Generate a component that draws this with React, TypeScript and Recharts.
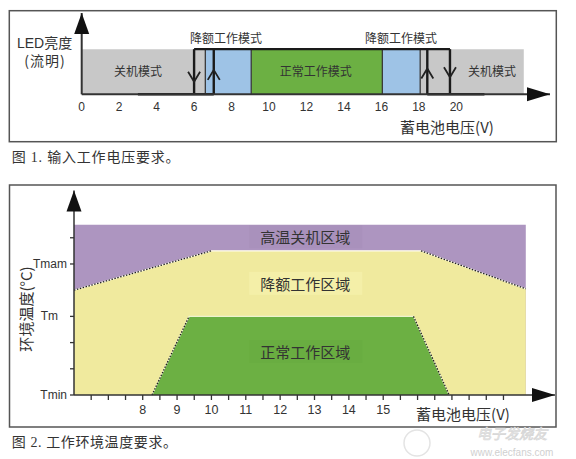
import React from 'react';
import {
  ComposedChart,
  XAxis,
  YAxis,
  Scatter,
  Area,
  ReferenceArea,
  ReferenceLine,
  ReferenceDot,
} from 'recharts';

const SANS = '"Liberation Sans", Arial, "Noto Sans CJK SC", sans-serif';
const CJK = '"Noto Sans CJK SC", "Liberation Sans", sans-serif';
const SERIF = '"Liberation Serif", "Noto Sans CJK SC", serif';

// ---------------- Figure 1: input voltage requirement ----------------
const voltTicks1 = [0, 2, 4, 6, 8, 10, 12, 14, 16, 18, 20];
const bandFrom = [0, 6.6, 9.05, 16.05];
const bandTo = [23.6, 9.05, 16.05, 18.07];
const bandMode = ['off', 'derate', 'normal', 'derate'];
const bandEdges = [6.6, 9.05, 16.05, 18.07];
const hystFromV = [6.0, 6.0, 7.05, 18.45, 19.66, 18.45, 3.0];
const hystToV = [19.66, 6.0, 7.05, 18.45, 19.66, 21.5, 7.05];
const hystFromB = [1, 0, 0, 0, 0, 0, 0];
const hystToB = [1, 1, 1, 1, 1, 0, 0];
const chevronV = [6.0, 7.05, 18.45, 19.66];
const chevronB = [0.39, 0.43, 0.46, 0.49];
const chevronDir = ['down', 'up', 'up', 'down'];
const modeLabelText = ['关机模式', '正常工作模式', '关机模式', '降额工作模式', '降额工作模式'];
const modeLabelV = [3.0, 12.5, 21.9, 7.7, 17.05];
const modeLabelB = [0.52, 0.52, 0.52, 1.26, 1.26];

// ---------------- Figure 2: ambient temperature requirement ----------------
const voltPoints = [6, 8.27, 9.35, 10, 15.88, 16.1, 16.92, 19.15];
const shutdownTemp = [6.5, null, null, null, null, null, null, 6.5];
const derateTemp = [4.0, null, null, 5.5, null, 5.5, null, 4.05];
const normalTemp = [null, 0, 3, null, 3, null, 0, null];
const voltTicks2 = [6.5, 7, 7.5, 8, 8.5, 9, 9.5, 10, 10.5, 11, 11.5, 12, 12.5, 13, 13.5, 14, 14.5, 15, 15.5, 16, 16.5, 17, 17.5, 18, 18.5];
const voltLabels2 = [8, 9, 10, 11, 12, 13, 14, 15];
const tempTicks = [0, 1, 2, 3, 5, 6];
const tempTickLabels = ['Tmin', '', '', 'Tm', 'Tmam', ''];
const regionText = ['高温关机区域', '降额工作区域', '正常工作区域'];
const regionV = [12.73, 12.73, 12.73];
const regionT = [6.04, 4.26, 1.66];

const MODE_COLORS: Record<string, string> = {
  off: '#c8c8c8',
  derate: '#9ec3e6',
  normal: '#6cb043',
};
const REGION_BG = ['#a991bc', '#f4efa8', '#69ad41'];

const ArrowRight = (p: any) => (
  <path d={`M${p.cx},${p.cy}L${p.cx - 23},${p.cy - 7}L${p.cx - 23},${p.cy + 7}Z`} fill="#111" />
);
const ArrowUp = (p: any) => (
  <path d={`M${p.cx},${p.cy}L${p.cx - 7.5},${p.cy + 21}L${p.cx + 7.5},${p.cy + 21}Z`} fill="#111" />
);

const Chevron = (p: any) => {
  const { cx, cy } = p;
  if (cx == null || cy == null) return null;
  const dir = (p.payload && p.payload.dir) || p.dir;
  const w = 6;
  const h = 5;
  const d =
    dir === 'down'
      ? `M${cx - w},${cy - h}L${cx},${cy + h}L${cx + w},${cy - h}`
      : `M${cx - w},${cy + h}L${cx},${cy - h}L${cx + w},${cy + h}`;
  return <path d={d} fill="none" stroke="#222" strokeWidth={1.8} />;
};

function Figure1() {
  const chevrons = chevronV.map((v, i) => ({ v, b: chevronB[i], dir: chevronDir[i] }));
  return (
    <ComposedChart
      width={576}
      height={170}
      data={chevrons}
      margin={{ top: 13, right: 26, bottom: 50.7, left: 81.7 }}
    >
      <XAxis
        dataKey="v"
        type="number"
        domain={[0, 25]}
        ticks={voltTicks1}
        interval={0}
        tickLine={false}
        tickSize={0}
        tickMargin={8}
        axisLine={{ stroke: '#333', strokeWidth: 2 }}
        tick={{ fontSize: 12, fill: '#333', fontFamily: SANS }}
        height={25}
        allowDataOverflow
      />
      <YAxis dataKey="b" type="number" domain={[0, 1.8]} hide allowDataOverflow />
      {bandFrom.map((f, i) => (
        <ReferenceArea
          key={'band' + i}
          x1={f}
          x2={bandTo[i]}
          y1={0}
          y2={1}
          fill={MODE_COLORS[bandMode[i]]}
          fillOpacity={1}
          stroke="none"
          ifOverflow="visible"
        />
      ))}
      {bandEdges.map((v, i) => (
        <ReferenceLine
          key={'edge' + i}
          segment={[
            { x: v, y: 0 },
            { x: v, y: 1 },
          ]}
          stroke="#3a3a3a"
          strokeWidth={1.3}
          ifOverflow="visible"
        />
      ))}
      <ReferenceLine x={0} stroke="#333" strokeWidth={2} ifOverflow="visible" />
      {hystFromV.map((v, i) => (
        <ReferenceLine
          key={'hyst' + i}
          segment={[
            { x: v, y: hystFromB[i] },
            { x: hystToV[i], y: hystToB[i] },
          ]}
          stroke="#1a1a1a"
          strokeWidth={2.4}
          ifOverflow="visible"
        />
      ))}
      {modeLabelText.map((t, i) => (
        <ReferenceDot
          key={'ml' + i}
          x={modeLabelV[i]}
          y={modeLabelB[i]}
          r={0}
          ifOverflow="visible"
          shape={(p: any) => (
            <text
              x={p.cx}
              y={p.cy}
              textAnchor="middle"
              dominantBaseline="central"
              fontSize={12}
              fill="#333"
              fontFamily={CJK}
            >
              {t}
            </text>
          )}
        />
      ))}
      <Scatter dataKey="b" isAnimationActive={false} shape={(p: any) => <Chevron {...p} />} />
      <ReferenceDot x={25} y={0} r={0} ifOverflow="visible" shape={ArrowRight} />
      <ReferenceDot x={0} y={1.8} r={0} ifOverflow="visible" shape={ArrowUp} />
    </ComposedChart>
  );
}

const TempTick = (p: any) => {
  const idx = tempTicks.indexOf(p.payload.value);
  const label = idx >= 0 ? tempTickLabels[idx] : '';
  const dx = label === 'Tm' ? -9 : 0;
  return (
    <text
      x={p.x + dx}
      y={p.y}
      textAnchor="end"
      dominantBaseline="central"
      fontSize={12}
      fill="#333"
      fontFamily={SANS}
    >
      {label}
    </text>
  );
};

function slopePairs(values: (number | null)[]) {
  const pts = voltPoints
    .map((v, i) => ({ x: v, y: values[i] }))
    .filter((p) => p.y != null) as { x: number; y: number }[];
  const n = pts.length;
  return [
    [pts[0], pts[1]],
    [pts[n - 2], pts[n - 1]],
  ];
}

function Figure2() {
  const data = voltPoints.map((v, i) => ({
    v,
    shutdown: shutdownTemp[i],
    derate: derateTemp[i],
    normal: normalTemp[i],
  }));
  const slopes = [...slopePairs(derateTemp), ...slopePairs(normalTemp)];
  return (
    <ComposedChart
      width={576}
      height={260}
      data={data}
      margin={{ top: 15.6, right: 21, bottom: 10, left: 0 }}
    >
      <XAxis
        dataKey="v"
        type="number"
        domain={[6, 20]}
        ticks={voltTicks2}
        interval={0}
        tickSize={5}
        tickMargin={5}
        tickFormatter={(v: number) => (voltLabels2.indexOf(v) >= 0 ? String(v) : '')}
        tick={{ fontSize: 12.5, fill: '#333', fontFamily: SANS }}
        axisLine={{ stroke: '#333', strokeWidth: 1.5 }}
        tickLine={{ stroke: '#333', strokeWidth: 1.3 }}
        height={30}
        allowDataOverflow
      />
      <YAxis
        type="number"
        domain={[0, 7.8]}
        ticks={tempTicks}
        interval={0}
        width={74}
        tickSize={4}
        tickMargin={3}
        tick={TempTick}
        axisLine={{ stroke: '#333', strokeWidth: 1.5 }}
        tickLine={{ stroke: '#333', strokeWidth: 1.3 }}
        allowDataOverflow
      />
      <Area
        dataKey="shutdown"
        type="linear"
        connectNulls
        fill="#ad95c0"
        fillOpacity={1}
        stroke="none"
        dot={false}
        activeDot={false}
        isAnimationActive={false}
      />
      <Area
        dataKey="derate"
        type="linear"
        connectNulls
        fill="#f0ea9e"
        fillOpacity={1}
        stroke="#fffdf0"
        strokeWidth={1.3}
        dot={false}
        activeDot={false}
        isAnimationActive={false}
      />
      <Area
        dataKey="normal"
        type="linear"
        connectNulls
        fill="#6cb043"
        fillOpacity={1}
        stroke="#eef3cf"
        strokeWidth={1.2}
        dot={false}
        activeDot={false}
        isAnimationActive={false}
      />
      {slopes.map((s, i) => (
        <ReferenceLine
          key={'slope' + i}
          segment={[
            { x: s[0].x, y: s[0].y },
            { x: s[1].x, y: s[1].y },
          ]}
          stroke="#222"
          strokeWidth={1.3}
          strokeDasharray="1.5 1.5"
          ifOverflow="visible"
        />
      ))}
      {regionText.map((t, i) => (
        <ReferenceDot
          key={'rl' + i}
          x={regionV[i]}
          y={regionT[i]}
          r={0}
          ifOverflow="visible"
          shape={(p: any) => (
            <g>
              <rect x={p.cx - 56} y={p.cy - 11.5} width={113} height={23} fill={REGION_BG[i]} />
              <text
                x={p.cx}
                y={p.cy}
                textAnchor="middle"
                dominantBaseline="central"
                fontSize={15}
                fill="#333"
                fontFamily={CJK}
              >
                {t}
              </text>
            </g>
          )}
        />
      ))}
      <ReferenceDot x={20} y={0} r={0} ifOverflow="visible" shape={ArrowRight} />
      <ReferenceDot x={6} y={7.8} r={0} ifOverflow="visible" shape={ArrowUp} />
    </ComposedChart>
  );
}

export default function App() {
  return (
    <div
      style={{
        position: 'absolute',
        left: 0,
        top: 0,
        width: 576,
        height: 459,
        background: '#fff',
        overflow: 'hidden',
      }}
    >
      <div style={{ position: 'absolute', left: 0, top: 0 }}>
        <Figure1 />
      </div>
      <div style={{ position: 'absolute', left: 0, top: 175 }}>
        <Figure2 />
      </div>
      <svg
        width={576}
        height={459}
        style={{ position: 'absolute', left: 0, top: 0, pointerEvents: 'none' }}
      >
        <rect x={9.3} y={10.7} width={547} height={131} fill="none" stroke="#555" strokeWidth={1.5} />
        <rect x={9.5} y={185} width={546.5} height={242} fill="none" stroke="#555" strokeWidth={1.5} />
        <text x={17} y={43} dominantBaseline="central" fontSize={14} fill="#333" fontFamily={SANS}>
          LED亮度
        </text>
        <text x={45} y={60} textAnchor="middle" dominantBaseline="central" fontSize={14} fill="#333" fontFamily={CJK} letterSpacing={1}>
          (流明)
        </text>
        <text x={447} y={126} textAnchor="middle" dominantBaseline="central" fontSize={15} fill="#333" fontFamily={CJK}>
          蓄电池电压(V)
        </text>
        <text x={11.7} y={157} dominantBaseline="central" fontSize={14} fill="#333" fontFamily={SERIF} letterSpacing={0.8}>
          图 1. 输入工作电压要求。
        </text>
        <text
          x={25}
          y={309}
          textAnchor="middle"
          dominantBaseline="central"
          fontSize={15}
          fill="#333"
          fontFamily={CJK}
          transform="rotate(-90 25 309)"
        >
          环境温度(°C)
        </text>
        <text x={463} y={413} textAnchor="middle" dominantBaseline="central" fontSize={15} fill="#333" fontFamily={CJK}>
          蓄电池电压(V)
        </text>
        <text x={11.7} y={442} dominantBaseline="central" fontSize={14} fill="#333" fontFamily={SERIF} letterSpacing={0.6}>
          图 2. 工作环境温度要求。
        </text>
        <circle cx={417} cy={443} r={13} fill="none" stroke="#e4e4e4" strokeWidth={1.5} />
        <text x={512} y={433} textAnchor="middle" dominantBaseline="central" fontSize={14} fill="none" stroke="#d8d8d8" strokeWidth={0.8} fontFamily={CJK} fontStyle="italic">
          电子发烧友
        </text>
        <text x={512} y={452.5} textAnchor="middle" dominantBaseline="central" fontSize={10} fill="#d0d0d0" fontFamily={SANS}>
          www.elecfans.com
        </text>
      </svg>
    </div>
  );
}
